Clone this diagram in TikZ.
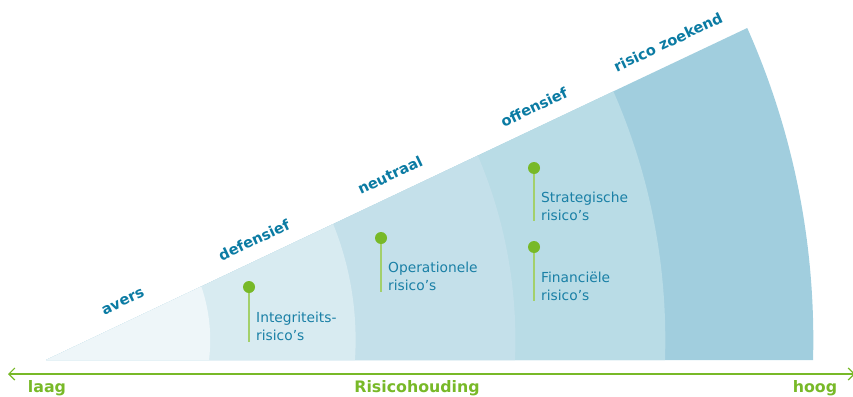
\documentclass[tikz,border=0pt]{standalone}
\usepackage{fontspec}
\setmainfont{DejaVu Sans}
\usetikzlibrary{arrows.meta}
\definecolor{bandA}{HTML}{EEF6F9}
\definecolor{bandB}{HTML}{D8EBF1}
\definecolor{bandC}{HTML}{C4E0EA}
\definecolor{bandD}{HTML}{B9DCE6}
\definecolor{bandE}{HTML}{A1CEDE}
\definecolor{txtblue}{HTML}{1A80A6}
\definecolor{lblblue}{HTML}{0B7BA3}
\definecolor{grn}{HTML}{78B928}
\definecolor{lgrn}{HTML}{A3D06B}
\tikzset{
  band/.style={lblblue, font=\bfseries\fontsize{14.6}{16}\selectfont, rotate=25.35, inner sep=0pt},
  pin/.style={circle, fill=grn, minimum size=12pt, inner sep=0pt},
  stem/.style={lgrn, line width=1.6pt},
  risk/.style={txtblue, font=\fontsize{13.8}{18}\selectfont, align=left, anchor=north west, inner sep=0pt},
  axislbl/.style={grn, font=\bfseries\fontsize{15.8}{18}\selectfont, anchor=base, inner sep=0pt}
}
\begin{document}
\begin{tikzpicture}[x=1pt,y=-1pt]
\useasboundingbox (0,0) rectangle (853,396);
\begin{scope}
  \clip (46,360) -- (950,-68) -- (950,360) -- cycle;
  \fill[bandE] (46,340) circle[radius=767.3];
  \fill[bandD] (46,340) circle[radius=619.3];
  \fill[bandC] (46,340) circle[radius=469.4];
  \fill[bandB] (46,340) circle[radius=309.6];
  \fill[bandA] (46,340) circle[radius=164.2];
\end{scope}
% band labels
\node[band] (avers) at (123,302) {avers};
\node[band] (def) at (254,240) {defensief};
\node[band] (neu) at (390,175) {neutraal};
\node[band] (off) at (534,107) {offensief};
\node[band] (zoek) at (668,42) {risico zoekend};
% pins
\node[pin] (p1) at (249,287) {};
\coordinate (e1) at (249,342);
\draw[stem] (p1.south) -- (e1);
\node[risk] (t1) at (256,312) {Integriteits-\\risico’s};
\node[pin] (p2) at (381,238) {};
\coordinate (e2) at (381,292);
\draw[stem] (p2.south) -- (e2);
\node[risk] (t2) at (388,262) {Operationele\\risico’s};
\node[pin] (p3) at (534,168) {};
\coordinate (e3) at (534,221);
\draw[stem] (p3.south) -- (e3);
\node[risk] (t3) at (541,192) {Strategische\\risico’s};
\node[pin] (p4) at (534,247) {};
\coordinate (e4) at (534,301);
\draw[stem] (p4.south) -- (e4);
\node[risk] (t4) at (541,272) {Financiële\\risico’s};
% axis
\coordinate (al) at (8,374);
\coordinate (ar) at (855,374);
\draw[grn, line width=1.8pt, {Straight Barb[length=6pt,width=12pt,line width=1.2pt]}-{Straight Barb[length=6pt,width=12pt,line width=1.2pt]}] (al) -- (ar);
\node[axislbl] (laag) at (47,392) {laag};
\node[axislbl] (mid) at (417,392) {Risicohouding};
\node[axislbl] (hoog) at (815,392) {hoog};
\end{tikzpicture}
\end{document}
